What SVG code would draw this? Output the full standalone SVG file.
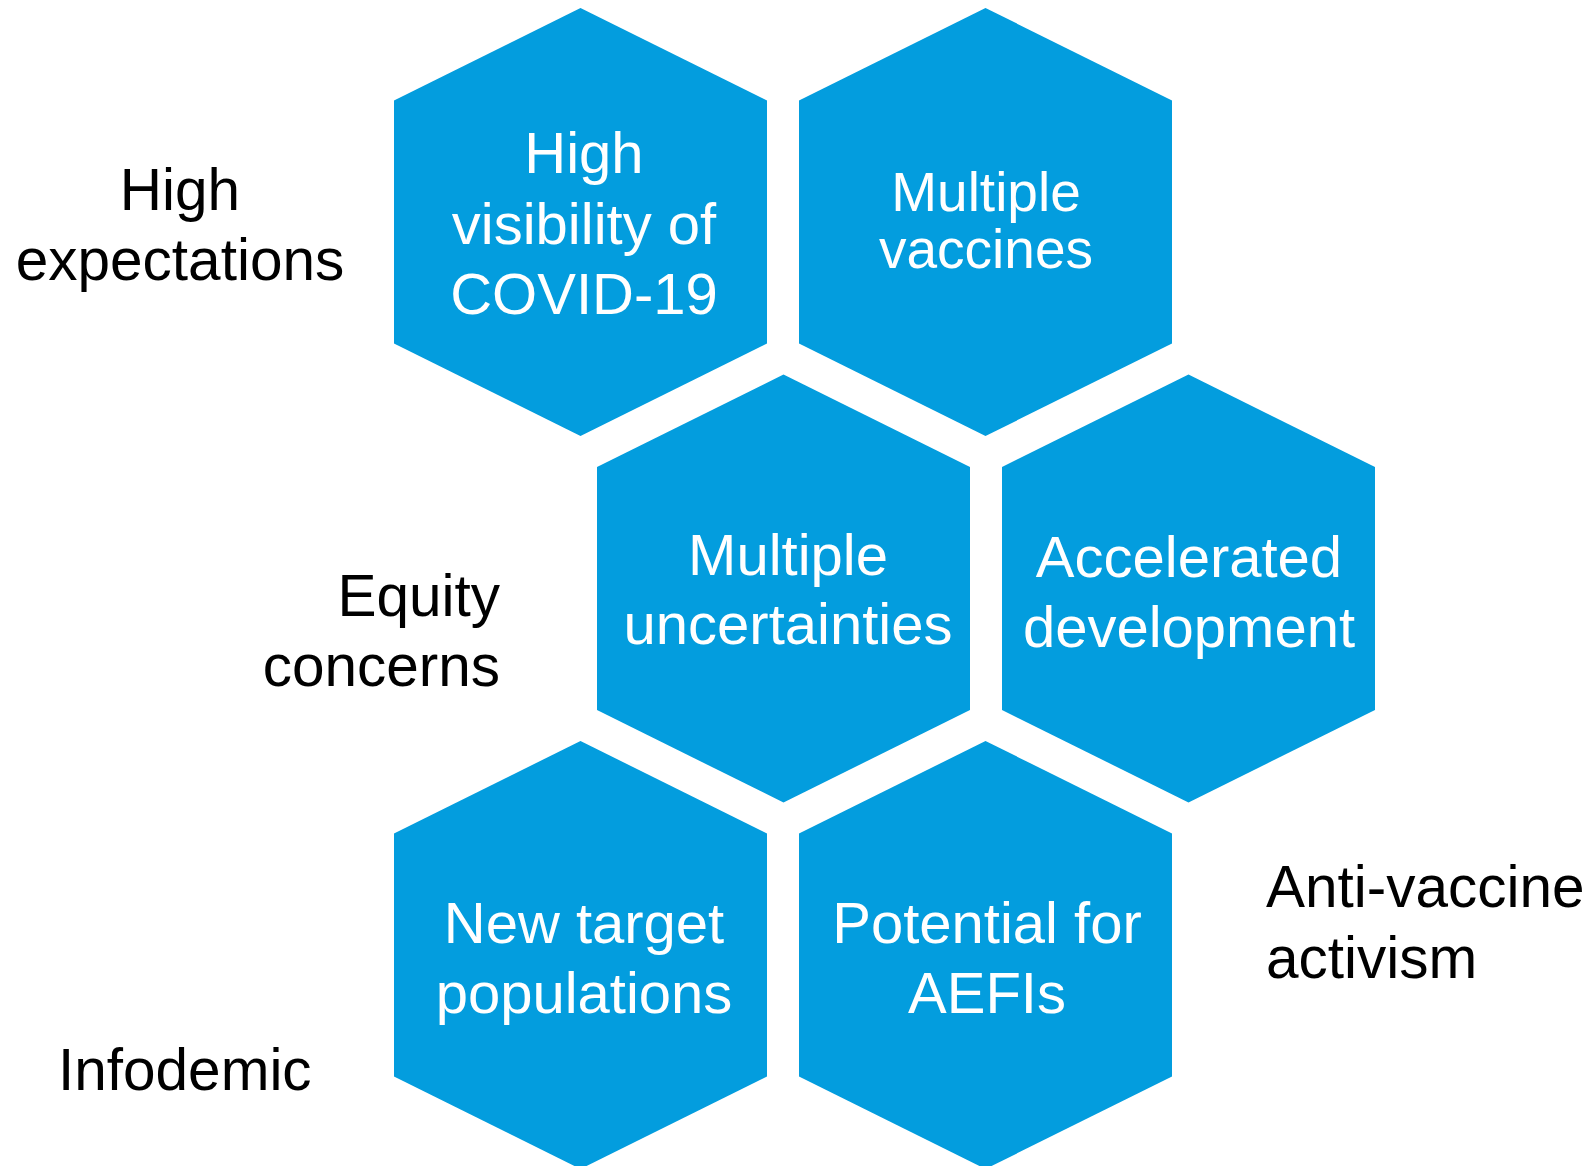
<svg xmlns="http://www.w3.org/2000/svg" width="1592" height="1166" viewBox="0 0 1592 1166">
<style>
.hex{fill:#039DDE;stroke:none}
.wt{font-family:"Liberation Sans",Arial,sans-serif;font-size:58px;fill:#FFFFFF;text-anchor:middle}
.ws{font-size:55px}
.bt{font-family:"Liberation Sans",Arial,sans-serif;font-size:58.5px;fill:#000000}
</style>
<rect width="1592" height="1166" fill="#FFFFFF"/>
<g id="connectors"></g>
<g id="hex-visibility">
<polygon class="hex" points="580.5,8 767,100.5 767,343.5 580.5,436 394,343.5 394,100.5"/>
<text class="wt" x="584" y="173">High</text>
<text class="wt" x="584" y="244">visibility of</text>
<text class="wt" x="584" y="314">COVID-19</text>
</g>
<g id="hex-multiple-vaccines">
<polygon class="hex" points="985.5,8 1172,100.5 1172,343.5 985.5,436 799,343.5 799,100.5"/>
<text class="wt ws" x="986" y="211">Multiple</text>
<text class="wt ws" x="986" y="268">vaccines</text>
</g>
<g id="hex-uncertainties">
<polygon class="hex" points="783.5,374.5 970,467 970,710 783.5,802.5 597,710 597,467"/>
<text class="wt" x="788" y="575">Multiple</text>
<text class="wt" x="788" y="644">uncertainties</text>
</g>
<g id="hex-accelerated">
<polygon class="hex" points="1188.5,374.5 1375,467 1375,710 1188.5,802.5 1002,710 1002,467"/>
<text class="wt" x="1189" y="577">Accelerated</text>
<text class="wt" x="1189" y="647">development</text>
</g>
<g id="hex-new-target">
<polygon class="hex" points="580.5,741 767,833.5 767,1076.5 580.5,1169 394,1076.5 394,833.5"/>
<text class="wt" x="584" y="943">New target</text>
<text class="wt" x="584" y="1013">populations</text>
</g>
<g id="hex-aefi">
<polygon class="hex" points="985.5,741 1172,833.5 1172,1076.5 985.5,1169 799,1076.5 799,833.5"/>
<text class="wt" x="987" y="943">Potential for</text>
<text class="wt" x="987" y="1013">AEFIs</text>
</g>
<g id="label-high-expectations">
<text class="bt" x="180" y="210" text-anchor="middle">High</text>
<text class="bt" x="180" y="280" text-anchor="middle">expectations</text>
</g>
<g id="label-equity">
<text class="bt" x="500" y="616" text-anchor="end">Equity</text>
<text class="bt" x="500" y="686" text-anchor="end">concerns</text>
</g>
<g id="label-anti-vaccine">
<text class="bt" x="1266" y="907">Anti-vaccine</text>
<text class="bt" x="1266" y="978">activism</text>
</g>
<g id="label-infodemic">
<text class="bt" x="58" y="1090">Infodemic</text>
</g>
</svg>
